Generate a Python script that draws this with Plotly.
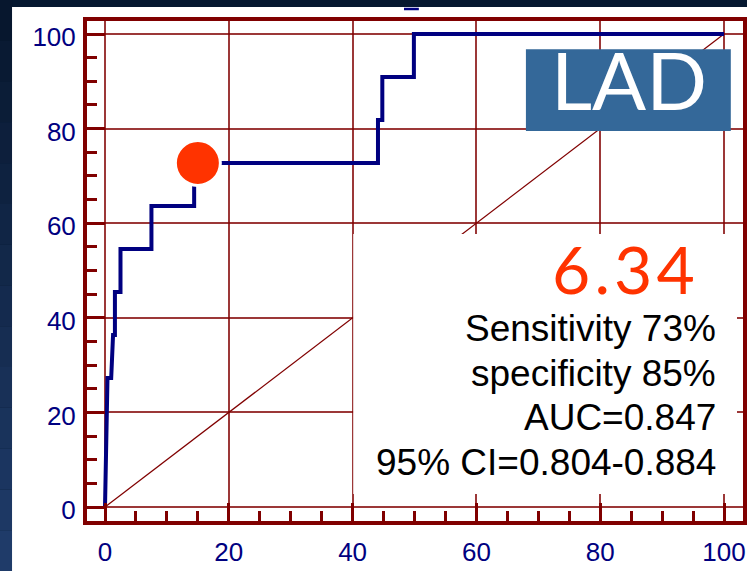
import plotly.graph_objects as go

# ROC curve (1 - specificity vs sensitivity, both in %)
fpr = [0, 0.4, 1.0, 1.3, 1.6, 1.6, 2.5, 2.5, 7.5, 7.5, 14.4, 14.4,
       44.1, 44.1, 44.8, 44.8, 49.9, 49.9, 100]
tpr = [0, 27.27, 27.27, 36.36, 36.36, 45.45, 45.45, 54.55, 54.55, 63.64, 63.64, 72.73,
       72.73, 81.82, 81.82, 90.91, 90.91, 100, 100]

# optimal cut-off point
cut_fpr = [15.0]
cut_tpr = [72.73]

# chance diagonal
ref_x = [0, 100]
ref_y = [0, 100]

tick_vals = [0, 20, 40, 60, 80, 100]
tick_text = ["0", "20", "40", "60", "80", "100"]
cutoff_label = "6\u200a.\u200a3\u200a4"
panel_title = "LAD"
stats_lines = ["Sensitivity 73%", "specificity 85%", "AUC=0.847", "95% CI=0.804-0.884"]

MAROON = "#800000"
GRID = "rgba(128,0,0,0.78)"
NAVY = "#000080"
ORANGE = "#FF3300"
BOX_BLUE = "#346899"
BG_DARK = "#061830"
TICK_FONT = dict(family="Arial", size=26, color=NAVY)

fig = go.Figure()

fig.add_trace(go.Scatter(x=ref_x, y=ref_y, mode="lines",
                         line=dict(color=MAROON, width=1.2), hoverinfo="skip"))
fig.add_trace(go.Scatter(x=fpr, y=tpr, mode="lines",
                         line=dict(color=NAVY, width=4)))
fig.add_trace(go.Scatter(x=cut_fpr, y=cut_tpr, mode="markers",
                         marker=dict(size=45, color=ORANGE,
                                     line=dict(color="white", width=3))))


def axis_style(rng, standoff, shift):
    return dict(
        range=rng,
        tickmode="array", tickvals=tick_vals, ticktext=tick_text,
        showgrid=True, gridcolor=GRID, gridwidth=1.5,
        zeroline=True, zerolinecolor=GRID, zerolinewidth=1.5,
        showline=True, linecolor=MAROON, linewidth=4, mirror=True,
        ticks="inside", ticklen=18, tickwidth=2.5, tickcolor=MAROON,
        minor=dict(tickmode="linear", tick0=0, dtick=5, ticks="inside", ticklen=10,
                   tickwidth=2.5, tickcolor=MAROON, showgrid=False),
        tickfont=TICK_FONT,
        ticklabelstandoff=standoff,
        ticklabelshift=shift,
        ticklabeloverflow="allow",
        automargin=False,
        fixedrange=True,
    )


shapes = []
# white slide panel
shapes.append(dict(type="rect", xref="paper", yref="paper",
                   x0=-0.1143, x1=1.1, y0=-0.2, y1=1.028,
                   fillcolor="white", line=dict(width=0), layer="below"))
# vertical gradient on the left slide edge
n_bands = 14
top_rgb = (7, 23, 46)
bot_rgb = (31, 59, 105)
y_top, y_bot = 1.042, -0.1
for i in range(n_bands):
    t = i / (n_bands - 1)
    c = tuple(int(round(a + (b - a) * t)) for a, b in zip(top_rgb, bot_rgb))
    ya = y_top + (y_bot - y_top) * i / n_bands
    yb = y_top + (y_bot - y_top) * (i + 1) / n_bands
    shapes.append(dict(type="rect", xref="paper", yref="paper",
                       x0=-0.2, x1=-0.1143, y0=yb, y1=ya,
                       fillcolor="rgb(%d,%d,%d)" % c, line=dict(width=0), layer="below"))
# white backing behind the statistics text
shapes.append(dict(type="rect", xref="x", yref="y",
                   x0=40.1, x1=102.1, y0=2.75, y1=57.7,
                   fillcolor="white", line=dict(width=0), layer="above"))
# LAD label box
shapes.append(dict(type="rect", xref="x", yref="y",
                   x0=68.0, x1=101.1, y0=79.5, y1=96.8,
                   fillcolor=BOX_BLUE, line=dict(width=0), layer="above"))
# small dash above the frame
shapes.append(dict(type="line", xref="x", yref="paper",
                   x0=48.3, x1=50.7, y0=1.024, y1=1.024,
                   line=dict(color=NAVY, width=2.5)))

annotations = [
    dict(x=84.7, y=90.5, xref="x", yref="y", text=panel_title, showarrow=False,
         xanchor="center", yanchor="middle",
         font=dict(family="Lato, Century Gothic, sans-serif", size=80, color="white")),
    dict(x=95.6, y=50.5, xref="x", yref="y", text=cutoff_label, showarrow=False,
         xanchor="right", yanchor="middle",
         font=dict(family="Lato, Century Gothic, sans-serif", size=66, color=ORANGE)),
]
stat_y = [37.8, 28.3, 18.9, 9.4]
for txt, yv in zip(stats_lines, stat_y):
    annotations.append(dict(x=99.0, y=yv, xref="x", yref="y", text=txt, showarrow=False,
                            xanchor="right", yanchor="middle",
                            font=dict(family="Arial", size=37, color="black")))

fig.update_layout(
    width=747, height=571,
    margin=dict(l=87, r=4, t=21, b=50, autoexpand=False),
    paper_bgcolor=BG_DARK, plot_bgcolor="white",
    font=dict(family="Arial", size=22, color=NAVY),
    showlegend=False,
    xaxis=axis_style([-2.91, 103.07], 5, 0),
    yaxis=axis_style([-2.96, 102.75], 2, 3),
    shapes=shapes,
    annotations=annotations,
)

fig.write_html("out.html")
